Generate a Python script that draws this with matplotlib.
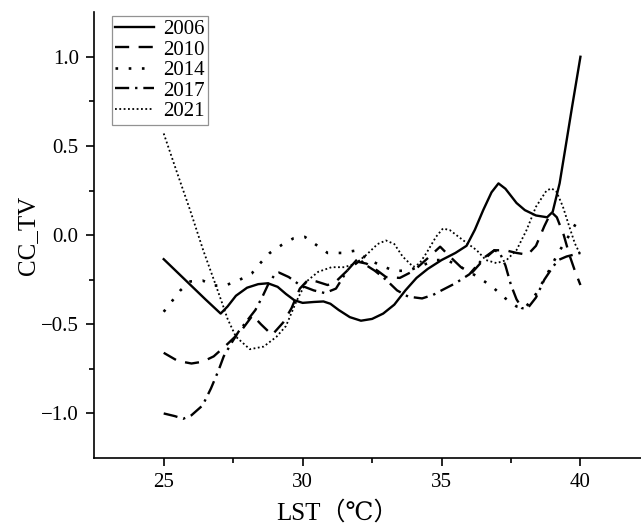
import numpy as np
import matplotlib.pyplot as plt

plt.rcParams['font.family'] = ['Liberation Serif', 'DejaVu Serif', 'Noto Sans CJK SC']
plt.rcParams['axes.unicode_minus'] = True

# CC_TV against LST, one curve per year
x2006 = [25.0, 25.5, 26.0, 26.5, 27.05, 27.3, 27.6, 28.0, 28.4, 28.75, 29.1, 29.4, 29.7,
         30.0, 30.4, 30.75, 31.0, 31.3, 31.7, 32.1, 32.5, 32.9, 33.3, 33.7, 34.1, 34.5,
         35.0, 35.5, 35.9, 36.2, 36.5, 36.8, 37.05, 37.3, 37.7, 38.0, 38.4, 38.8, 39.0,
         39.25, 39.45, 39.7, 40.0]
y2006 = [-0.135, -0.21, -0.285, -0.36, -0.44, -0.40, -0.34, -0.295, -0.275, -0.27, -0.29,
         -0.33, -0.365, -0.38, -0.375, -0.372, -0.385, -0.42, -0.46, -0.48, -0.47, -0.44,
         -0.39, -0.31, -0.24, -0.19, -0.14, -0.10, -0.06, 0.03, 0.14, 0.24, 0.29, 0.26,
         0.18, 0.14, 0.11, 0.10, 0.13, 0.29, 0.48, 0.72, 1.0]

x2010 = [25.0, 25.5, 26.0, 26.4, 26.8, 27.3, 27.77, 28.2, 28.5, 28.9, 29.3, 29.6, 29.9,
         30.2, 30.5, 30.9, 31.2, 31.6, 32.0, 32.3, 32.7, 33.0, 33.5, 34.0, 34.5, 34.95,
         35.3, 35.7, 36.1, 36.5, 36.9, 37.3, 37.7, 38.1, 38.4, 38.7, 38.95, 39.15, 39.4,
         39.6, 39.8, 40.0]
y2010 = [-0.66, -0.705, -0.72, -0.71, -0.68, -0.61, -0.54, -0.45, -0.50, -0.56, -0.49,
         -0.41, -0.30, -0.25, -0.26, -0.28, -0.26, -0.20, -0.15, -0.16, -0.20, -0.235,
         -0.24, -0.20, -0.13, -0.065, -0.12, -0.18, -0.21, -0.14, -0.085, -0.085, -0.10,
         -0.11, -0.06, 0.05, 0.13, 0.10, 0.0, -0.11, -0.20, -0.28]

x2014 = [25.0, 25.3, 25.6, 25.95, 26.4, 26.83, 27.26, 27.74, 28.17, 28.46, 28.82, 29.24,
         29.66, 30.08, 30.5, 30.9, 31.4, 31.9, 32.3, 32.8, 33.3, 33.8, 34.3, 34.8, 35.2,
         35.7, 36.1, 36.55, 36.9, 37.3, 37.7, 38.0, 38.4, 38.8, 39.2, 39.6, 40.0]
y2014 = [-0.43, -0.37, -0.31, -0.26, -0.255, -0.283, -0.28, -0.25, -0.215, -0.16, -0.10,
         -0.056, -0.019, -0.01, -0.056, -0.10, -0.10, -0.087, -0.13, -0.17, -0.20, -0.20,
         -0.17, -0.14, -0.14, -0.18, -0.215, -0.26, -0.30, -0.355, -0.40, -0.41, -0.33,
         -0.22, -0.10, 0.0, 0.11]

x2017 = [25.0, 25.4, 25.7, 26.0, 26.4, 26.7, 26.97, 27.16, 27.46, 27.7, 28.0, 28.3, 28.57,
         28.75, 29.0, 29.15, 29.5, 29.9, 30.4, 30.8, 31.2, 31.6, 32.0, 32.3, 32.6, 33.0,
         33.4, 33.8, 34.3, 34.7, 35.0, 35.5, 36.0, 36.5, 36.9, 37.1, 37.3, 37.5, 37.7,
         37.9, 38.1, 38.4, 38.7, 39.0, 39.2, 39.5, 40.0]
y2017 = [-1.0, -1.015, -1.03, -1.01, -0.955, -0.86, -0.76, -0.68, -0.60, -0.54, -0.48,
         -0.42, -0.34, -0.28, -0.22, -0.21, -0.235, -0.28, -0.31, -0.325, -0.30, -0.20,
         -0.13, -0.17, -0.20, -0.25, -0.31, -0.345, -0.355, -0.335, -0.31, -0.27, -0.22,
         -0.13, -0.085, -0.10, -0.17, -0.28, -0.36, -0.41, -0.41, -0.35, -0.25, -0.18,
         -0.14, -0.12, -0.10]

x2021 = [25.0, 25.47, 25.95, 26.42, 26.85, 27.1, 27.3, 27.6, 28.1, 28.6, 29.06, 29.4, 29.78,
         30.14, 30.56, 31.04, 31.5, 31.9, 32.3, 32.7, 33.0, 33.3, 33.6, 33.98, 34.2, 34.46,
         34.8, 35.05, 35.3, 35.77, 36.26, 36.6, 36.98, 37.34, 37.7, 38.06, 38.4, 38.78,
         38.96, 39.14, 39.37, 39.6, 39.8, 40.0]
y2021 = [0.57, 0.355, 0.14, -0.084, -0.27, -0.38, -0.47, -0.57, -0.64, -0.625, -0.57,
         -0.51, -0.37, -0.26, -0.206, -0.18, -0.18, -0.16, -0.11, -0.05, -0.03, -0.05,
         -0.12, -0.178, -0.16, -0.10, -0.01, 0.037, 0.028, -0.028, -0.084, -0.14, -0.157,
         -0.14, -0.084, 0.028, 0.159, 0.25, 0.262, 0.243, 0.159, 0.047, -0.047, -0.11]

fig = plt.figure(figsize=(6.41, 5.30), dpi=100)
ax = fig.add_axes([0.1466, 0.1358, 0.8534, 0.8412])

ax.plot(x2006, y2006, color='black', lw=1.7, label='2006')
ax.plot(x2010, y2010, color='black', lw=1.7, dashes=(6, 4), label='2010')
ax.plot(x2014, y2014, color='black', lw=1.9, dashes=(1, 4), label='2014')
ax.plot(x2017, y2017, color='black', lw=1.7, dashes=(6, 2.5, 1, 2.5), label='2017')
ax.plot(x2021, y2021, color='black', lw=1.3, dashes=(1, 1.4), label='2021')

ax.set_xlim(22.49, 42.18)
ax.set_ylim(-1.25, 1.25)
ax.set_xticks([25, 30, 35, 40])
ax.set_xticks([27.5, 32.5, 37.5], minor=True)
ax.set_yticks([-1.0, -0.5, 0.0, 0.5, 1.0])
ax.set_yticks([-0.75, -0.25, 0.25, 0.75], minor=True)
ax.set_yticklabels(['\u22121.0', '\u22120.5', '0.0', '0.5', '1.0'])

for side in ['top', 'right']:
    ax.spines[side].set_visible(False)
for side in ['left', 'bottom']:
    ax.spines[side].set_linewidth(1.2)
ax.tick_params(which='major', direction='out', length=6, width=1.2, labelsize=15, pad=5)
ax.tick_params(which='minor', direction='out', length=3.5, width=1.2)

ax.set_xlabel('LST（℃）', fontsize=18)
ax.xaxis.set_label_coords(0.445, -0.095)
ax.set_ylabel('CC_TV', fontsize=18)
ax.yaxis.set_label_coords(-0.1, 0.5)

leg = ax.legend(loc='upper left', bbox_to_anchor=(0.033, 0.991), fontsize=15,
                frameon=True, fancybox=False, handlelength=1.85, handletextpad=0.45,
                borderpad=0.15, labelspacing=0.05, borderaxespad=0)
leg.get_frame().set_edgecolor('#777777')
leg.get_frame().set_linewidth(0.9)

fig.savefig('out.png', dpi=100)
